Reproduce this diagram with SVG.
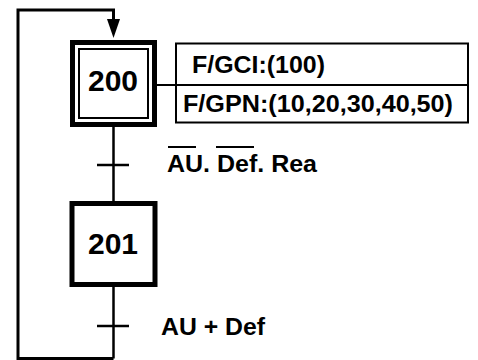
<svg xmlns="http://www.w3.org/2000/svg" width="478" height="360" viewBox="0 0 478 360">
<defs>
<style>
.ln{fill:none;stroke:#000;stroke-width:2.5}
.step{fill:#fff;stroke:#000;stroke-width:5}
.inner{fill:none;stroke:#000;stroke-width:2}
.act{fill:#fff;stroke:#000;stroke-width:2}
.num{font-family:"Liberation Sans",Arial,sans-serif;font-weight:bold;font-size:30px;fill:#000;text-anchor:middle}
.lbl{font-family:"Liberation Sans",Arial,sans-serif;font-weight:bold;font-size:23px;fill:#000}
</style>
</defs>
<rect width="478" height="360" fill="#fff"/>
<g id="connectors">
<path class="ln" d="M113.5,358.5 L18,358.5 L18,10 L113.5,10 L113.5,20" style="stroke-width:3"/>
<path d="M107,19 L120,19 L113.5,38 Z" fill="#000"/>
<line class="ln" x1="113.5" y1="125" x2="113.5" y2="203"/>
<line class="ln" x1="113.5" y1="285" x2="113.5" y2="358.5"/>
<line class="ln" x1="97" y1="165" x2="129" y2="165"/>
<line class="ln" x1="97" y1="326" x2="129" y2="326"/>
<line class="ln" x1="157" y1="85" x2="176" y2="85" style="stroke-width:2"/>
</g>
<g id="step200">
<rect class="step" x="72.5" y="42.5" width="82" height="82"/>
<rect class="inner" x="79" y="49" width="69" height="69"/>
<text class="num" x="113" y="91">200</text>
</g>
<g id="actions200">
<rect class="act" x="176" y="43.5" width="292" height="79"/>
<line class="act" x1="176" y1="85" x2="468" y2="85"/>
<text class="lbl" x="192" y="73" textLength="133" lengthAdjust="spacingAndGlyphs">F/GCI:(100)</text>
<text class="lbl" x="183" y="112" textLength="270" lengthAdjust="spacingAndGlyphs">F/GPN:(10,20,30,40,50)</text>
</g>
<g id="transition1">
<text class="lbl" x="167" y="172" textLength="150" lengthAdjust="spacingAndGlyphs">AU. Def. Rea</text>
<line x1="168" y1="147" x2="196" y2="147" stroke="#000" stroke-width="2"/>
<line x1="216" y1="147" x2="254" y2="147" stroke="#000" stroke-width="2"/>
</g>
<g id="step201">
<rect class="step" x="72" y="203.5" width="83" height="81"/>
<text class="num" x="113" y="254">201</text>
</g>
<g id="transition2">
<text class="lbl" x="161" y="335" textLength="104" lengthAdjust="spacingAndGlyphs">AU + Def</text>
</g>
</svg>
